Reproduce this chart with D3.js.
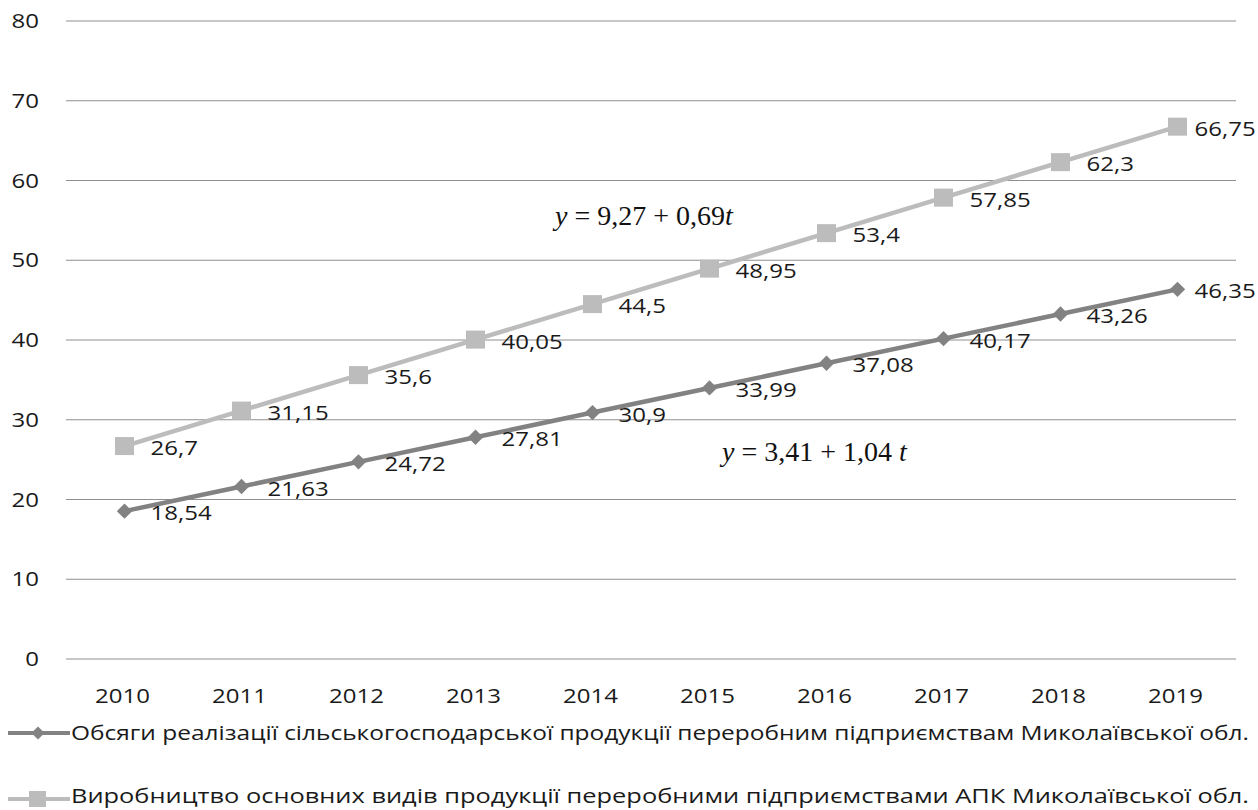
<!DOCTYPE html>
<html>
<head>
<meta charset="utf-8">
<script src="https://cdn.jsdelivr.net/npm/d3@7"></script>
<style>
  body { margin: 0; background: #fff; }
  svg { display: block; }
</style>
</head>
<body>
<div id="chart"></div>
<script>
// data
const years = ["2010", "2011", "2012", "2013", "2014", "2015", "2016", "2017", "2018", "2019"];
const salesVol = [18.54, 21.63, 24.72, 27.81, 30.9, 33.99, 37.08, 40.17, 43.26, 46.35];
const prodVol = [26.7, 31.15, 35.6, 40.05, 44.5, 48.95, 53.4, 57.85, 62.3, 66.75];
const yTicks = [0, 10, 20, 30, 40, 50, 60, 70, 80];
const seriesNames = [
  "Обсяги реалізації сільськогосподарської продукції переробним підприємствам Миколаївської обл.",
  "Виробництво основних видів продукції переробними підприємствами АПК  Миколаївської обл."
];

const W = 1258, H = 810;
const margin = { left: 66, right: 22, top: 21, bottom: 151 };
const STRETCH = 1.2; // source text is horizontally stretched
const FONT = "'Open Sans', sans-serif";
const TXT = "#1a1a1a";

const svg = d3.select("#chart").append("svg").attr("width", W).attr("height", H);

const x = d3.scaleBand().domain(years).range([margin.left, W - margin.right]);
const y = d3.scaleLinear().domain([0, 80]).range([H - margin.bottom, margin.top]);

// stretch a text element horizontally around its anchor
function stretch(sel, k) {
  sel.each(function () {
    const len = this.getComputedTextLength();
    d3.select(this).attr("textLength", len * k).attr("lengthAdjust", "spacingAndGlyphs");
  });
}

// gridlines
svg.append("g").selectAll("line").data(yTicks).join("line")
  .attr("x1", margin.left).attr("x2", W - margin.right)
  .attr("y1", d => y(d)).attr("y2", d => y(d))
  .attr("stroke", "#8f8f8f").attr("stroke-width", 1.2);

// y axis labels
svg.append("g").selectAll("text").data(yTicks).join("text")
  .attr("x", 39).attr("y", d => y(d)).attr("dy", "0.35em")
  .attr("text-anchor", "end")
  .style("font", `20px ${FONT}`).attr("fill", TXT)
  .text(d => d)
  .call(stretch, STRETCH);

// x axis labels
svg.append("g").selectAll("text").data(years).join("text")
  .attr("x", d => x(d) + x.bandwidth() / 2 - 2).attr("y", 696).attr("dy", "0.35em")
  .attr("text-anchor", "middle")
  .style("font", `20px ${FONT}`).attr("fill", TXT)
  .text(d => d)
  .call(stretch, STRETCH);

const cx = d => x(d) + x.bandwidth() / 2;
const line = d3.line().x(d => cx(d.year)).y(d => y(d.v));

const series = [
  { key: "prod", values: prodVol, color: "#bcbcbc", marker: "square" },
  { key: "sales", values: salesVol, color: "#828282", marker: "diamond" }
];

series.forEach(s => {
  const pts = years.map((yr, i) => ({ year: yr, v: s.values[i], i }));
  const g = svg.append("g");
  g.append("path").datum(pts).attr("d", line)
    .attr("fill", "none").attr("stroke", s.color).attr("stroke-width", 4.5);

  if (s.marker === "square") {
    g.selectAll("rect").data(pts).join("rect")
      .attr("x", d => cx(d.year) - 9.5).attr("y", d => y(d.v) - 9)
      .attr("width", 19).attr("height", 18).attr("fill", s.color);
  } else {
    g.selectAll("path.m").data(pts).join("path").attr("class", "m")
      .attr("d", d3.symbol(d3.symbolDiamond2, 150))
      .attr("transform", d => `translate(${cx(d.year)},${y(d.v)})`)
      .attr("fill", s.color);
  }

  g.selectAll("text").data(pts).join("text")
    .attr("x", d => cx(d.year) + (d.i === years.length - 1 ? 17 : 26))
    .attr("y", d => y(d.v) + 2).attr("dy", "0.35em")
    .style("font", `20px ${FONT}`).attr("fill", TXT)
    .text(d => String(d.v).replace(".", ","))
    .call(stretch, STRETCH);
});

// trend equations
function equation(px, py, parts) {
  const t = svg.append("text").attr("x", px).attr("y", py)
    .style("font", "28px 'Liberation Serif', 'Times New Roman', serif").attr("fill", "#111");
  parts.forEach(p => t.append("tspan").style("font-style", p[1] ? "italic" : "normal").text(p[0]));
}
equation(555, 225, [["y", 1], [" = 9,27 + 0,69", 0], ["t", 1]]);
equation(722, 461, [["y", 1], [" = 3,41 + 1,04 ", 0], ["t", 1]]);

// legend
const legY = [733, 799];
const legend = svg.append("g");
[series[1], series[0]].forEach((s, i) => {
  const ly = legY[i];
  legend.append("line").attr("x1", 8).attr("x2", 70).attr("y1", ly).attr("y2", ly)
    .attr("stroke", s.color).attr("stroke-width", 4);
  if (s.marker === "square") {
    legend.append("rect").attr("x", 29).attr("y", ly - 8).attr("width", 17).attr("height", 16).attr("fill", s.color);
  } else {
    legend.append("path").attr("d", d3.symbol(d3.symbolDiamond2, 110))
      .attr("transform", `translate(38,${ly})`).attr("fill", s.color);
  }
  // keep descenders of the bottom line inside the page
  legend.append("text").attr("x", 71).attr("y", Math.min(ly, 796)).attr("dy", "0.35em")
    .style("font", `20px ${FONT}`).attr("fill", TXT)
    .attr("textLength", 1178).attr("lengthAdjust", "spacingAndGlyphs")
    .text(seriesNames[i]);
});
</script>
</body>
</html>
